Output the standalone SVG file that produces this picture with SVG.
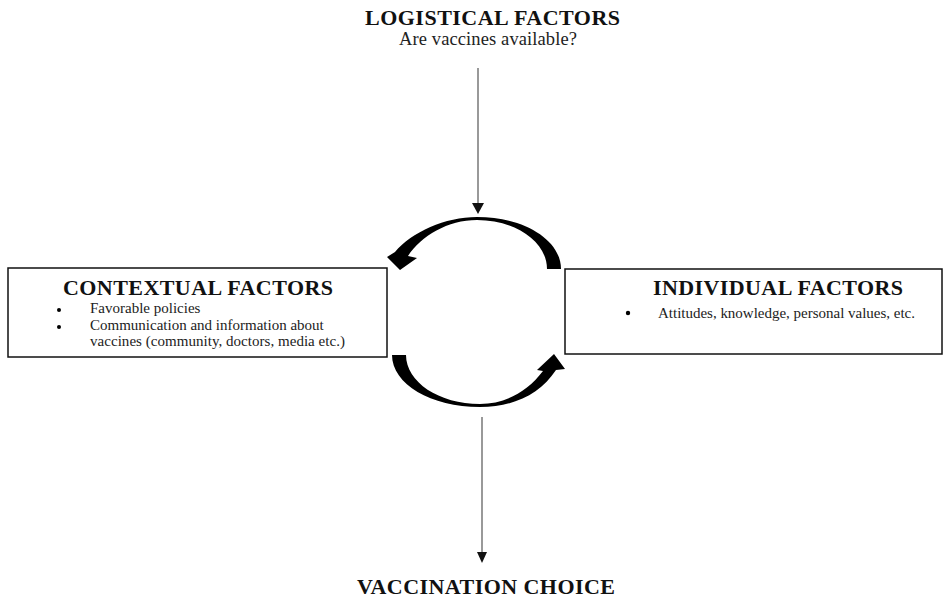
<svg xmlns="http://www.w3.org/2000/svg" width="944" height="599" viewBox="0 0 944 599">
<style>
.t{font-family:"Liberation Serif","Times New Roman",serif;font-weight:bold;font-size:22px;fill:#111}
.b{font-family:"Liberation Serif","Times New Roman",serif;font-size:15px;fill:#222}
.s{font-family:"Liberation Serif","Times New Roman",serif;font-size:18.5px;fill:#222}
.box{fill:#fff;stroke:#111;stroke-width:1.5}
.ln{stroke:#555;stroke-width:1.2;fill:none}
.ah{fill:#111}
.arc{fill:#000}
</style>
<rect width="944" height="599" fill="#fff"/>
<g id="logistical">
<text class="t" x="365" y="25" textLength="255">LOGISTICAL FACTORS</text>
<text class="s" x="399" y="45" textLength="178">Are vaccines available?</text>
</g>
<g id="contextual">
<rect class="box" x="8" y="268" width="379" height="89"/>
<text class="t" x="63" y="295" textLength="270">CONTEXTUAL FACTORS</text>
<circle cx="59" cy="310" r="2"/>
<text class="b" x="90" y="313">Favorable policies</text>
<circle cx="59" cy="327" r="2"/>
<text class="b" x="90" y="330">Communication and information about</text>
<text class="b" x="90" y="346" textLength="255">vaccines (community, doctors, media etc.)</text>
</g>
<g id="individual">
<rect class="box" x="565" y="269" width="377" height="85"/>
<text class="t" x="653" y="295" textLength="250">INDIVIDUAL FACTORS</text>
<circle cx="628" cy="313" r="2.2"/>
<text class="b" x="658" y="318" textLength="257">Attitudes, knowledge, personal values, etc.</text>
</g>
<g id="choice">
<text class="t" x="357" y="594" textLength="258">VACCINATION CHOICE</text>
</g>
<g id="connectors">
<line class="ln" x1="478" y1="68" x2="478" y2="206"/>
<polygon class="ah" points="472,203 484,203 478,214"/>
<line class="ln" x1="482" y1="417" x2="482" y2="555"/>
<polygon class="ah" points="477,552 487,552 482,563"/>
<path class="arc" d="M561,269 C561,240 524,217 477,217 C445,217 412,232 395,252 L387,257 L400,270 L417,258 L408,256 C421,236 448,220 477,220 C516,220 547,242 547,269 Z"/>
<path class="arc" d="M392,355 L406,355 C406,382 439,404 480,404 C505,404 527,392 543,371 L537,370 L554,354 L565,369 L556,370 C540,394 514,407 480,407 C431,407 392,384 392,355 Z"/>
</g>
</svg>
